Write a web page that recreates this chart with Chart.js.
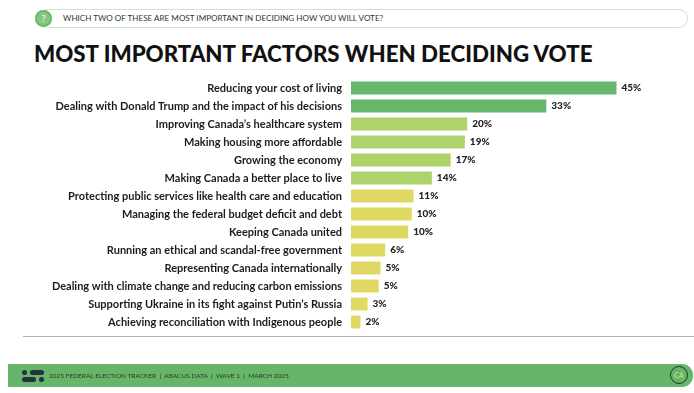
<!DOCTYPE html>
<html>
<head>
<meta charset="utf-8">
<script src="https://cdn.jsdelivr.net/npm/chart.js@4"></script>
<style>
  html, body { margin: 0; padding: 0; background: #fff; overflow: hidden; }
  body { width: 694px; height: 393px; position: relative; font-family: Lato, sans-serif; }
  canvas { position: absolute; left: 0; top: 0; }
  .pill { position: absolute; left: 38px; top: 9px; width: 648px; height: 17px; border: 1px solid #cde6c9; border-radius: 10px; }
  .icon { position: absolute; left: 35px; top: 10px; width: 17px; height: 17px; border-radius: 50%; background: #86c684; box-shadow: inset 0 0 0 2px #6ab96d; color: #d9eed6; font: bold 10px/17px Lato, sans-serif; text-align: center; }
  .question { position: absolute; left: 63px; top: 12px; font-size: 8.1px; line-height: 12px; color: #333; white-space: nowrap; }
  h1 { position: absolute; left: 34px; top: 41px; margin: 0; font-size: 22.3px; line-height: 26px; font-weight: 900; color: #111; white-space: nowrap; }
  .rule { position: absolute; left: 23px; top: 336px; width: 671px; height: 1px; background: #b0b0b0; }
  .footer { position: absolute; left: 8px; top: 364px; width: 685px; height: 23px; background: #66b56a; border-radius: 0 11px 11px 0; }
  .footer span { position: absolute; left: 41px; top: 6px; font-size: 6.5px; line-height: 11px; color: #1f3a24; white-space: nowrap; }
  .logo { position: absolute; background: #26303a; border-radius: 3px; height: 5px; }
  .ca { position: absolute; left: 662px; top: 2px; width: 16px; height: 16px; border: 1.5px solid #22352a; border-radius: 50%; color: #b9dd7a; font: bold 7px/16px Lato, sans-serif; text-align: center; }
</style>
</head>
<body>
<div class="pill"></div>
<div class="icon">?</div>
<div class="question">WHICH TWO OF THESE ARE MOST IMPORTANT IN DECIDING HOW YOU WILL VOTE?</div>
<h1>MOST IMPORTANT FACTORS WHEN DECIDING VOTE</h1>
<canvas id="myChart" width="694" height="393"></canvas>
<div class="rule"></div>
<div class="footer">
  <div class="logo" style="left:14px;top:6px;width:5px;border-radius:50%"></div>
  <div class="logo" style="left:22px;top:6px;width:14px"></div>
  <div class="logo" style="left:14px;top:13px;width:14px"></div>
  <div class="logo" style="left:31px;top:13px;width:5px;border-radius:50%"></div>
  <span>2025 FEDERAL ELECTION TRACKER &nbsp;|&nbsp; ABACUS DATA &nbsp;|&nbsp; WAVE 1 &nbsp;|&nbsp; MARCH 2025</span>
  <div class="ca">CA</div>
</div>
<script>
const categories = [
  'Reducing your cost of living',
  'Dealing with Donald Trump and the impact of his decisions',
  'Improving Canada\u2019s healthcare system',
  'Making housing more affordable',
  'Growing the economy',
  'Making Canada a better place to live',
  'Protecting public services like health care and education',
  'Managing the federal budget deficit and debt',
  'Keeping Canada united',
  'Running an ethical and scandal-free government',
  'Representing Canada internationally',
  'Dealing with climate change and reducing carbon emissions',
  'Supporting Ukraine in its fight against Putin\u2019s Russia',
  'Achieving reconciliation with Indigenous people',
];
const barLengths = [45, 33.1, 19.7, 19.3, 16.9, 13.7, 10.6, 10.3, 9.7, 5.8, 5, 4.7, 2.8, 1.6];
const valueLabels = ['45%', '33%', '20%', '19%', '17%', '14%', '11%', '10%', '10%', '6%', '5%', '5%', '3%', '2%'];
const barColors = [
  '#66b76b', '#66b76b',
  '#aed36a', '#aed36a', '#aed36a', '#aed36a',
  '#dfd964', '#dfd964', '#dfd964', '#dfd964', '#dfd964', '#dfd964', '#dfd964', '#dfd964',
];

const barLabels = {
  id: 'barLabels',
  afterDatasetsDraw(chart) {
    const ctx = chart.ctx;
    ctx.save();
    ctx.font = '900 10px Lato';
    ctx.fillStyle = '#222';
    ctx.textBaseline = 'middle';
    chart.getDatasetMeta(0).data.forEach((bar, i) => {
      ctx.fillText(valueLabels[i], bar.x + 5, bar.y);
    });
    ctx.restore();
  },
};

new Chart(document.getElementById('myChart'), {
  type: 'bar',
  data: {
    labels: categories,
    datasets: [{
      data: barLengths,
      backgroundColor: barColors,
      barPercentage: 0.72,
      categoryPercentage: 1,
    }],
  },
  plugins: [barLabels],
  options: {
    indexAxis: 'y',
    responsive: false,
    animation: false,
    layout: { padding: { left: 0, right: 48, top: 79, bottom: 62 } },
    plugins: { legend: { display: false }, tooltip: { enabled: false } },
    scales: {
      x: { display: false, min: 0, max: 50 },
      y: {
        afterFit: (scale) => { scale.width = 351; },
        grid: { display: false, drawTicks: false },
        border: { display: false },
        ticks: { autoSkip: false, padding: 9, color: '#1c1c1c', font: { family: 'Lato', size: 11, weight: 'bold' } },
      },
    },
  },
});
</script>
</body>
</html>
